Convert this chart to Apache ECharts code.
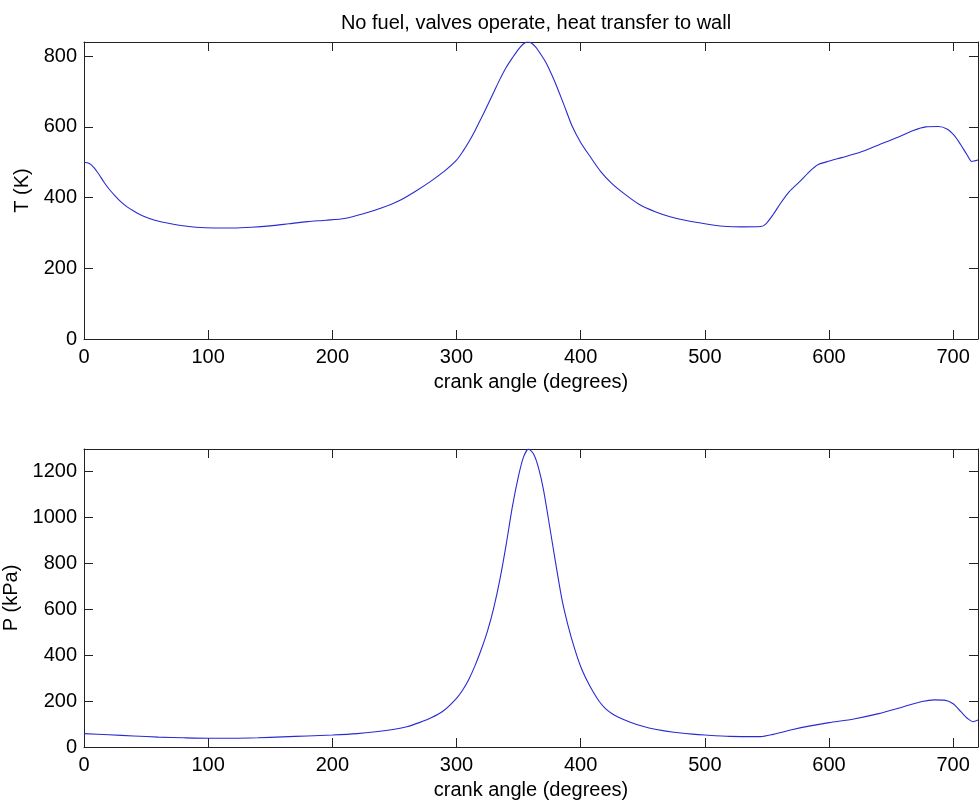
<!DOCTYPE html>
<html>
<head>
<meta charset="utf-8">
<title>crank angle</title>
<script src="https://cdn.jsdelivr.net/npm/echarts@6/dist/echarts.min.js"></script>
<style>
    html,body{margin:0;padding:0;background:#fff;}
    #chart{width:980px;height:807px;}
</style>
</head>
<body>
<div id="chart"></div>
<script>
//温度曲线 T (K)
var tAngle = [0,4,8,12,16,20,25,30,35,40,48,57,67,78,90,105,120,135,150,165,180,195,210,225,240,255,268,280,290,300,305,310,315,320,325,330,335,340,345,350,354,357,360,364,367,372,377,382,387,393,400,408,416,425,435,447,460,472,485,500,515,530,545,549,555,561,568,577,585,591,598,610,625,640,655,668,678,688,695,701,706,711,715,720];
var tValue = [500,497,485,466,444,425,405,387,373,362,347,336,328,321,316,314,314,316,320,326,332,336,341,354,371,393,420,448,474,506,530,558,590,625,661,698,735,768,795,820,835,840,838,825,810,782,745,703,658,603,556,514,474,440,411,381,360,346,335,326,319,317,318,325,352,384,417,447,476,493,501,513,528,549,570,590,600,601,594,575,550,522,502,506];
//压力曲线 P (kPa)
var pAngle = [0,20,40,60,80,100,120,140,160,180,200,220,235,250,260,270,280,290,300,305,310,315,320,325,330,335,340,345,350,354,358,362,366,370,375,380,385,390,395,400,405,410,415,420,425,430,440,450,460,475,490,500,520,545,555,570,585,600,620,640,660,675,685,693,700,706,712,716,720];
var pValue = [58,53,48,43,40,38,38,40,44,48,52,58,66,77,88,106,128,160,212,248,295,355,425,505,605,730,880,1045,1180,1262,1296,1275,1215,1120,960,795,640,525,430,350,290,240,198,167,146,131,108,90,77,64,56,52,46,45,55,75,92,106,122,145,175,198,205,204,188,155,122,110,117];

var chartTitle = "No fuel, valves operate, heat transfer to wall";
var xName = "crank angle (degrees)";

function pairs(xs, ys){
    var out = [];
    for(var i=0;i<xs.length;i++){ out.push([xs[i], ys[i]]); }
    return out;
}

var font = "Liberation Sans, Arial, sans-serif";
var fs = 20;
var lineCol = "#222";

//主坐标轴 (带刻度标签)
function xMain(idx){
    return {
        type:"value", gridIndex:idx, min:0, max:720, interval:100,
        name:xName, nameLocation:"middle", nameGap:33,
        nameTextStyle:{color:"#000", fontSize:fs, fontFamily:font},
        axisLine:{onZero:false, lineStyle:{color:lineCol, width:1}},
        axisTick:{inside:true, length:9, lineStyle:{color:lineCol}},
        axisLabel:{color:"#000", fontSize:fs, fontFamily:font, margin:8, showMaxLabel:false},
        splitLine:{show:false}
    };
}
//上边框
function xBox(idx){
    return {
        type:"value", gridIndex:idx, position:"top", min:0, max:720, interval:100,
        axisLine:{onZero:false, lineStyle:{color:lineCol, width:1}},
        axisTick:{inside:true, length:9, lineStyle:{color:lineCol}},
        axisLabel:{show:false}, splitLine:{show:false}
    };
}
function yMain(idx, max, name, gap){
    return {
        type:"value", gridIndex:idx, min:0, max:max, interval:200,
        name:name, nameLocation:"middle", nameGap:gap, nameRotate:90,
        nameTextStyle:{color:"#000", fontSize:fs, fontFamily:font},
        axisLine:{show:true, onZero:false, lineStyle:{color:lineCol, width:1}},
        axisTick:{show:true, inside:true, length:9, lineStyle:{color:lineCol}},
        axisLabel:{color:"#000", fontSize:fs, fontFamily:font, margin:7, showMaxLabel:false,
            formatter:function(v){ return String(v); }},
        splitLine:{show:false}
    };
}
//右边框
function yBox(idx, max){
    return {
        type:"value", gridIndex:idx, position:"right", min:0, max:max, interval:200,
        axisLine:{show:true, onZero:false, lineStyle:{color:lineCol, width:1}},
        axisTick:{show:true, inside:true, length:9, lineStyle:{color:lineCol}},
        axisLabel:{show:false}, splitLine:{show:false}
    };
}

var chart = echarts.init(document.getElementById("chart"));
var option = {
    backgroundColor:"#fff",
    animation:false,
    title:{
        text:chartTitle, left:531, top:8, textAlign:"center",
        textStyle:{color:"#000", fontSize:fs, fontWeight:"normal", fontFamily:font}
    },
    grid:[
        {left:84, top:42, width:894, height:297, outerBoundsMode:"none"},
        {left:84, top:449, width:894, height:298, outerBoundsMode:"none"}
    ],
    xAxis:[xMain(0), xBox(0), xMain(1), xBox(1)],
    yAxis:[yMain(0, 840, "T (K)", 46), yBox(0, 840), yMain(1, 1296, "P (kPa)", 58), yBox(1, 1296)],
    series:[
        {
            name:"T", type:"line", xAxisIndex:0, yAxisIndex:0,
            data:pairs(tAngle, tValue), smooth:0.25, showSymbol:false,
            lineStyle:{color:"#2a2ad2", width:1.1}
        },
        {
            name:"P", type:"line", xAxisIndex:2, yAxisIndex:2,
            data:pairs(pAngle, pValue), smooth:0.25, showSymbol:false,
            lineStyle:{color:"#2a2ad2", width:1.1}
        }
    ]
};
chart.setOption(option);
</script>
</body>
</html>
